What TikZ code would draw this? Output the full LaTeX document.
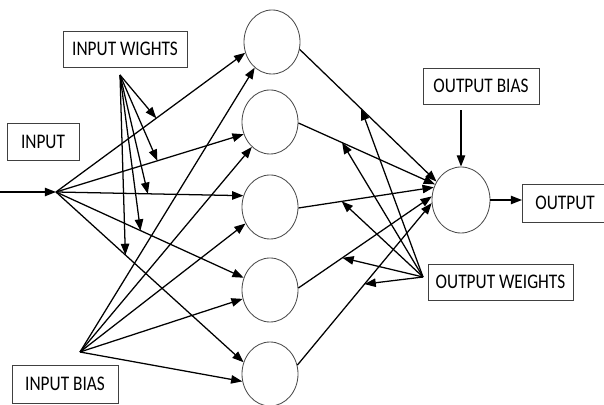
\documentclass[tikz,border=0pt]{standalone}
\usepackage{fontspec}
\setmainfont{Carlito}
\usepackage{graphicx}
\usetikzlibrary{arrows.meta,shapes.geometric,calc}
\newcommand{\tallt}[1]{\scalebox{1}[1.2]{#1}}
\tikzset{
  neuron/.style={draw=black!70, ellipse, minimum width=1.4cm, minimum height=1.6cm, inner sep=0pt, line width=0.6pt},
  lbox/.style={draw=black!75, line width=0.6pt, inner sep=0pt, font=\fontsize{12.3}{14}\selectfont},
  arr/.style={-{Triangle[length=8pt,width=6pt]}, line width=0.9pt},
}
\begin{document}
\begin{tikzpicture}[x=0.025cm,y=-0.025cm]
\useasboundingbox (0,0) rectangle (604,405);
% hidden and output neurons
\node[neuron] (h1) at (272,42) {};
\node[neuron] (h2) at (270,122) {};
\node[neuron] (h3) at (270,207) {};
\node[neuron] (h4) at (270,290) {};
\node[neuron] (h5) at (270,374) {};
\node[neuron, minimum width=1.45cm, minimum height=1.65cm] (out) at (461,200) {};
% labels
\node[lbox, minimum width=1.8cm, minimum height=0.925cm] (inp) at (43,141.5) {\tallt{INPUT}};
\node[lbox, minimum width=3.1cm, minimum height=0.9cm] (iwgt) at (125,49) {\tallt{INPUT WIGHTS}};
\node[lbox, minimum width=2.65cm, minimum height=0.95cm] (ibias) at (65,384) {\tallt{INPUT BIAS}};
\node[lbox, minimum width=2.9cm, minimum height=0.9cm] (obias) at (481,86) {\tallt{OUTPUT BIAS}};
\node[lbox, minimum width=3.625cm, minimum height=0.9cm] (owgt) at (500.5,282) {\tallt{OUTPUT WEIGHTS}};
\node[lbox, anchor=west, text width=2.2cm, align=left, inner xsep=0.325cm, minimum height=0.95cm] (outbox) at (522,203) {\tallt{OUTPUT}};
% junction points
\coordinate (in0) at (0,192);
\coordinate (ip) at (56,192);
\coordinate (iwp) at (120,75);
\coordinate (bp) at (80,352);
\coordinate (owp) at (423,277);
% input to hidden
\draw[arr] (in0) -- (ip);
\draw[arr] (ip) -- (h1.202);
\draw[arr] (ip) -- (h2.205);
\draw[arr] (ip) -- (h3.157);
\draw[arr] (ip) -- (h4.155);
\draw[arr] (ip) -- (h5.156);
% input weights
\draw[arr] (iwp) -- ($(ip)!0.53!(h1.202)$);
\draw[arr] (iwp) -- ($(ip)!0.54!(h2.205)$);
\draw[arr] (iwp) -- ($(ip)!0.49!(h3.157)$);
\draw[arr] (iwp) -- ($(ip)!0.45!(h4.155)$);
\draw[arr] (iwp) -- ($(ip)!0.37!(h5.156)$);
% input bias
\draw[arr] (bp) -- (h1.236);
\draw[arr] (bp) -- (h2.234);
\draw[arr] (bp) -- (h3.214);
\draw[arr] (bp) -- (h4.198);
\draw[arr] (bp) -- (h5.195);
% hidden to output
\draw[arr] (h1.345) -- (out.143);
\draw[arr] (h2.358) -- (out.149);
\draw[arr] (h3.358) -- (out.155);
\draw[arr] (h4.4) -- (out.173);
\draw[arr] (h5.18) -- (out.186);
% output weights
\draw[arr] (owp) -- ($(h1.345)!0.45!(out.143)$);
\draw[arr] (owp) -- ($(h2.358)!0.32!(out.149)$);
\draw[arr] (owp) -- ($(h3.358)!0.32!(out.155)$);
\draw[arr] (owp) -- ($(h4.4)!0.33!(out.173)$);
\draw[arr] (owp) -- ($(h5.18)!0.5!(out.186)$);
% output bias and output
\draw[arr] ([yshift=-4pt]obias.south -| out.north) -- (out.north);
\draw[arr] (out.east) -- (out.east -| outbox.west);
\end{tikzpicture}
\end{document}
